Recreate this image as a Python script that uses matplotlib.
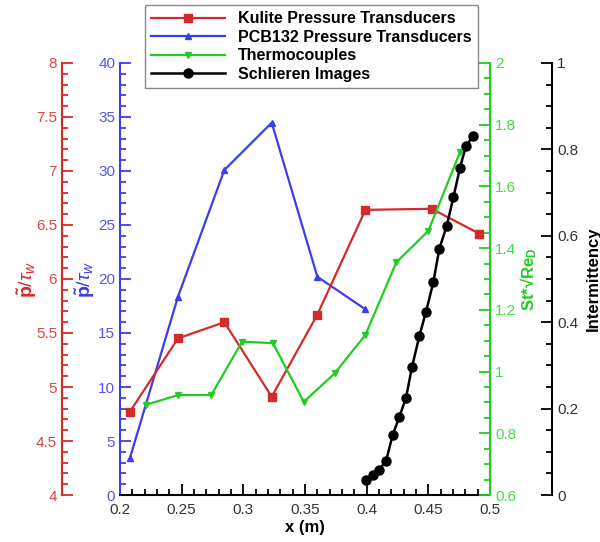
import matplotlib
matplotlib.use("Agg")
import matplotlib.pyplot as plt
from matplotlib.ticker import MultipleLocator, FuncFormatter

plt.rcParams['font.family'] = ['Liberation Sans', 'DejaVu Sans']
plt.rcParams['mathtext.fontset'] = 'custom'
plt.rcParams['mathtext.rm'] = 'Liberation Sans'
plt.rcParams['mathtext.it'] = 'Liberation Sans:italic'
plt.rcParams['mathtext.bf'] = 'Liberation Sans:bold'

# Data
kulite_x = [0.208, 0.247, 0.2846, 0.323, 0.360, 0.399, 0.4527, 0.4913]
kulite_y = [4.77, 5.45, 5.60, 4.91, 5.67, 6.64, 6.65, 6.42]

pcb_x = [0.208, 0.247, 0.2846, 0.323, 0.360, 0.399]
pcb_y = [3.40, 18.36, 30.09, 34.47, 20.21, 17.19]

thermo_x = [0.221, 0.247, 0.274, 0.299, 0.324, 0.349, 0.374, 0.399, 0.424, 0.450, 0.4757]
thermo_y = [0.892, 0.924, 0.924, 1.097, 1.092, 0.902, 0.994, 1.119, 1.354, 1.456, 1.711]

schl_x = [0.3995, 0.4049, 0.4102, 0.4157, 0.4211, 0.4265, 0.4319, 0.4368, 0.4427,
          0.4481, 0.4540, 0.4589, 0.4649, 0.4703, 0.4757, 0.4805, 0.4865]
schl_y = [0.035, 0.046, 0.059, 0.079, 0.139, 0.181, 0.225, 0.297, 0.368,
          0.424, 0.492, 0.570, 0.623, 0.689, 0.758, 0.808, 0.832]

RED = '#d42a2a'
BLUE = '#3c3cf0'
GREEN = '#22cc22'
BLACK = '#000000'

fig = plt.figure(figsize=(6.0, 5.42), dpi=100)
ax = fig.add_axes([0.2, 0.0867, 0.6167, 0.7971])
ax_r = ax.twinx()
ax_g = ax.twinx()
ax_k = ax.twinx()

fmt = FuncFormatter(lambda v, p: '%g' % round(v, 4))

# host (blue, left)
ax.set_xlim(0.2, 0.5)
ax.set_ylim(0, 40)
for s in ['top', 'right']:
    ax.spines[s].set_visible(False)
ax.spines['left'].set_color(BLUE)
ax.spines['left'].set_linewidth(1.5)
ax.spines['bottom'].set_linewidth(1.5)
ax.xaxis.set_major_locator(MultipleLocator(0.05))
ax.xaxis.set_minor_locator(MultipleLocator(0.01))
ax.yaxis.set_major_locator(MultipleLocator(5))
ax.yaxis.set_minor_locator(MultipleLocator(1))
ax.xaxis.set_major_formatter(fmt)
ax.yaxis.set_major_formatter(fmt)
ax.tick_params(axis='x', which='both', direction='in', colors='black', labelcolor='#333333', labelsize=11, width=1.3, pad=6)
ax.tick_params(axis='x', which='major', length=8)
ax.tick_params(axis='x', which='minor', length=4)
ax.tick_params(axis='y', which='both', direction='in', colors=BLUE, labelcolor='#5555ee', labelsize=11, width=1.3)
ax.tick_params(axis='y', which='major', length=8)
ax.tick_params(axis='y', which='minor', length=4)
ax.set_xlabel('x (m)', fontsize=12, fontweight='bold', labelpad=2)
ax.set_ylabel(r'$\mathbf{\tilde{p}}/\tau_w$', fontsize=14, color=BLUE, labelpad=1)

# red axis (left offset)
ax_r.set_ylim(4, 8)
ax_r.yaxis.set_label_position('left')
ax_r.yaxis.set_ticks_position('left')
for s in ['top', 'right', 'bottom']:
    ax_r.spines[s].set_visible(False)
ax_r.spines['left'].set_position(('axes', -0.157))
ax_r.spines['left'].set_color(RED)
ax_r.spines['left'].set_linewidth(1.5)
ax_r.yaxis.set_major_locator(MultipleLocator(0.5))
ax_r.yaxis.set_minor_locator(MultipleLocator(0.1))
ax_r.yaxis.set_major_formatter(fmt)
ax_r.tick_params(axis='y', which='both', direction='in', colors=RED, labelcolor='#dd4444', labelsize=11, width=1.3)
ax_r.tick_params(axis='y', which='major', length=8)
ax_r.tick_params(axis='y', which='minor', length=4)
ax_r.set_ylabel(r'$\mathbf{\tilde{p}}/\tau_w$', fontsize=14, color=RED, labelpad=-2)

# green axis (right)
ax_g.set_ylim(0.6, 2.0)
for s in ['top', 'left', 'bottom']:
    ax_g.spines[s].set_visible(False)
ax_g.spines['right'].set_color(GREEN)
ax_g.spines['right'].set_linewidth(1.5)
ax_g.yaxis.set_major_locator(MultipleLocator(0.2))
ax_g.yaxis.set_minor_locator(MultipleLocator(0.05))
ax_g.yaxis.set_major_formatter(fmt)
ax_g.tick_params(axis='y', which='both', direction='in', colors=GREEN, labelcolor='#44dd44', labelsize=11, width=1.3)
ax_g.tick_params(axis='y', which='major', length=8)
ax_g.tick_params(axis='y', which='minor', length=4)
ax_g.set_ylabel('St*\u221aRe$_\\mathbf{D}$', fontsize=12, fontweight='bold', color=GREEN, labelpad=2)

# black axis (right offset)
ax_k.set_ylim(0, 1)
for s in ['top', 'left', 'bottom']:
    ax_k.spines[s].set_visible(False)
ax_k.spines['right'].set_position(('axes', 1.1676))
ax_k.spines['right'].set_linewidth(1.5)
ax_k.yaxis.set_major_locator(MultipleLocator(0.2))
ax_k.yaxis.set_minor_locator(MultipleLocator(0.05))
ax_k.yaxis.set_major_formatter(fmt)
ax_k.tick_params(axis='y', which='both', direction='in', colors=BLACK, labelcolor='#333333', labelsize=11, width=1.3)
ax_k.tick_params(axis='y', which='major', length=8)
ax_k.tick_params(axis='y', which='minor', length=4)
ax_k.set_ylabel('Intermittency', fontsize=12, fontweight='bold', labelpad=6)

# data
l_pcb, = ax.plot(pcb_x, pcb_y, color=BLUE, marker='^', markersize=5, linewidth=1.6)
l_kul, = ax_r.plot(kulite_x, kulite_y, color=RED, marker='s', markersize=5.5, linewidth=1.6)
l_th, = ax_g.plot(thermo_x, thermo_y, color=GREEN, marker='v', markersize=5, linewidth=1.6)
l_sc, = ax_k.plot(schl_x, schl_y, color=BLACK, marker='o', markersize=6.5, linewidth=1.8, clip_on=False)

leg = fig.legend([l_kul, l_pcb, l_th, l_sc],
                 ['Kulite Pressure Transducers', 'PCB132 Pressure Transducers',
                  'Thermocouples', 'Schlieren Images'],
                 loc='upper left', bbox_to_anchor=(0.2417, 0.991),
                 prop={'weight': 'bold', 'size': 11.5}, handlelength=4.6,
                 handletextpad=0.8, labelspacing=0.22, borderpad=0.4,
                 fancybox=False, framealpha=1, edgecolor='#888888', borderaxespad=0)
leg.get_frame().set_linewidth(1.0)
leg.set_zorder(10)

fig.savefig('out.png', dpi=100)
